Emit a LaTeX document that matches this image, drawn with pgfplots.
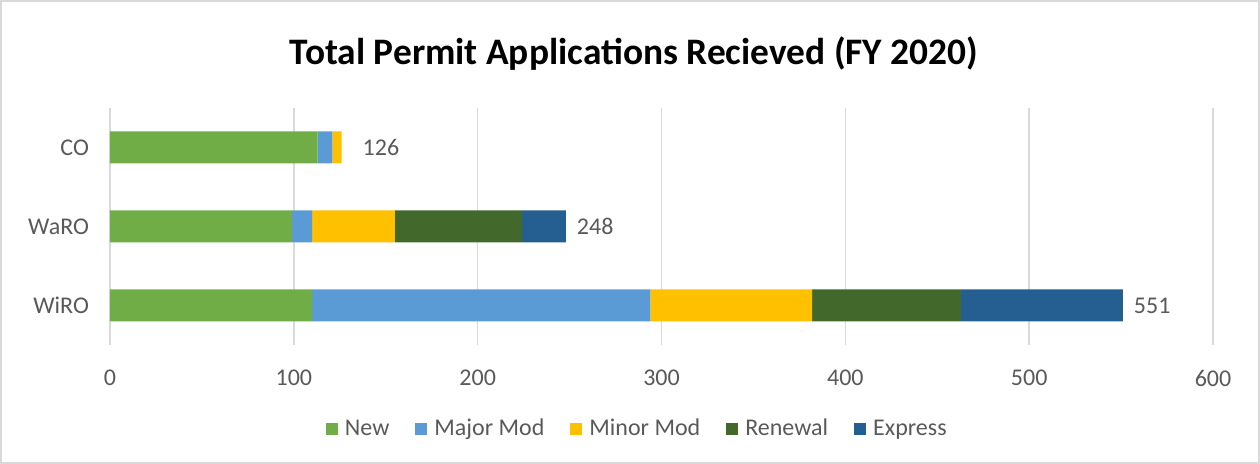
\documentclass[border=0pt]{standalone}
\usepackage{pgfplots}
\usepackage{pgfplotstable}
\pgfplotsset{compat=1.18}
\usepackage{fontspec}
\setmainfont{Carlito}
\definecolor{cNew}{HTML}{70AD47}
\definecolor{cMajor}{HTML}{5B9BD5}
\definecolor{cMinor}{HTML}{FFC000}
\definecolor{cRenew}{HTML}{43682B}
\definecolor{cExpress}{HTML}{255E91}
\definecolor{txt}{HTML}{595959}
\definecolor{grd}{HTML}{D9D9D9}
\pgfplotstableread{
y new major minor renewal express total shift
0 110 184 88 81 88 551 2
1 99 11 45 69 24 248 2
2 113 8 5 0 0 126 7
}\data
\begin{document}
\begin{tikzpicture}
\useasboundingbox (0,0) rectangle (630pt,232pt);
\draw[grd, line width=0.6pt] (0.5pt,0.5pt) rectangle (629.5pt,231.5pt);
\node[font=\fontsize{18.7}{22}\selectfont\bfseries, text=black] at (317pt,205pt) {Total Permit Applications Recieved (FY 2020)};
\pgfplotsset{
  myframe/.style={
    at={(55pt,59.5pt)}, anchor=south west,
    scale only axis, width=551.5pt, height=118.5pt,
    xmin=0, xmax=600, ymin=-0.5, ymax=2.5,
  }
}
\begin{axis}[
  myframe,
  xbar stacked, bar width=16pt,
  xtick={0,100,...,600},
  ytick={0,1,2}, yticklabels={WiRO,WaRO,CO},
  xmajorgrids, grid style={grd, line width=0.8pt},
  axis line style={draw=none},
  major tick length=0pt,
  /pgf/number format/assume math mode=true,
  tick label style={text=txt, font=\fontsize{12}{14}\selectfont},
  xticklabel style={yshift=-9pt},
  yticklabel style={xshift=-7pt},
  legend style={at={(0.479,-0.354)}, anchor=center, draw=none, fill=none,
    legend columns=5, font=\fontsize{12}{14}\selectfont, text=txt,
    /tikz/every even column/.append style={column sep=11pt}},
  legend image code/.code={\fill[#1] (0pt,-3.1pt) rectangle (6pt,3.1pt); \path (7.5pt,0pt);},
]
\addplot[fill=cNew, draw=none] table[x=new, y=y] {\data};
\addplot[fill=cMajor, draw=none] table[x=major, y=y] {\data};
\addplot[fill=cMinor, draw=none] table[x=minor, y=y] {\data};
\addplot[fill=cRenew, draw=none] table[x=renewal, y=y] {\data};
\addplot[fill=cExpress, draw=none] table[x=express, y=y] {\data};
\legend{New, Major Mod, Minor Mod, Renewal, Express}
\end{axis}
\begin{axis}[myframe, hide axis]
\addplot[draw=none, mark=none,
  point meta=explicit,
  nodes near coords,
  /pgf/number format/assume math mode=true,
  visualization depends on={\thisrow{shift} \as \myshift},
  every node near coord/.append style={anchor=west, text=txt, font=\fontsize{12}{14}\selectfont, xshift=\myshift pt}
  ] table[x=total, y=y, meta=total] {\data};
\end{axis}
\end{tikzpicture}
\end{document}
